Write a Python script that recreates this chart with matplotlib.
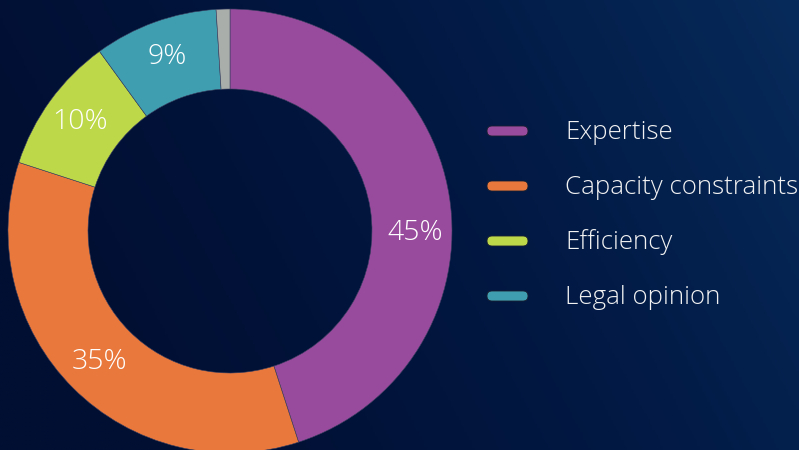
import numpy as np
import matplotlib
matplotlib.use("Agg")
import matplotlib.pyplot as plt
from matplotlib.patches import FancyBboxPatch
from matplotlib.colors import LinearSegmentedColormap

# Share of respondents by main reason
categories = ["Expertise", "Capacity constraints", "Efficiency", "Legal opinion", "Other"]
values = [45, 35, 10, 9, 1]
pct_labels = ["45%", "35%", "10%", "9%", ""]
legend_items = ["Expertise", "Capacity constraints", "Efficiency", "Legal opinion"]
colors = ["#984a9c", "#e9783c", "#bdd849", "#3f9fb1", "#a9aeaa"]

W, H = 799, 450
fig = plt.figure(figsize=(W / 100, H / 100), dpi=100)
ax = fig.add_axes([0, 0, 1, 1])
ax.set_xlim(0, W)
ax.set_ylim(0, H)
ax.axis("off")

# diagonal navy gradient background
yy, xx = np.mgrid[0:1:200j, 0:1:300j]
t = np.clip(0.85 * xx + 0.25 * (1 - yy) - 0.15, 0, 1) ** 1.3
cmap = LinearSegmentedColormap.from_list("bg", ["#010f33", "#021a45", "#072b5b"])
ax.imshow(t, cmap=cmap, extent=[0, W, 0, H], origin="upper", aspect="auto", zorder=0)

cx, cy, R = 230, H - 231, 222
width = 80
wedges, _ = ax.pie(values, colors=colors, startangle=90, counterclock=False,
                   center=(cx, cy), radius=R, frame=False,
                   wedgeprops=dict(width=width, linewidth=0.4, edgecolor="#3a3f60"))
ax.set_xlim(0, W)
ax.set_ylim(0, H)
ax.set_aspect("auto")

font = "Open Sans"
angle_shift = [-9.5, 0, 0, 0, 0]
rl = R - width / 2 + 3
for w, lab, sh in zip(wedges, pct_labels, angle_shift):
    if not lab:
        continue
    mid = np.deg2rad((w.theta1 + w.theta2) / 2 + sh)
    ax.text(cx + rl * np.cos(mid), cy + rl * np.sin(mid), lab, color="white",
            fontsize=20.5, family=font, fontweight="light", ha="center",
            va="center", zorder=5)

rows_y = [131, 186, 241, 296]
for name, col, y in zip(legend_items, colors, rows_y):
    yd = H - y
    ax.add_patch(FancyBboxPatch((487, yd - 5), 41, 10,
                                boxstyle="round,pad=0,rounding_size=5",
                                mutation_aspect=1, facecolor=col,
                                edgecolor="#1a2030", linewidth=0.6, zorder=5))
    ax.text(565, yd - 1.5, name, color="#f2f2f2", fontsize=18.6, family=font,
            fontweight="light", ha="left", va="center", zorder=5)

fig.savefig("out.png", dpi=100)
